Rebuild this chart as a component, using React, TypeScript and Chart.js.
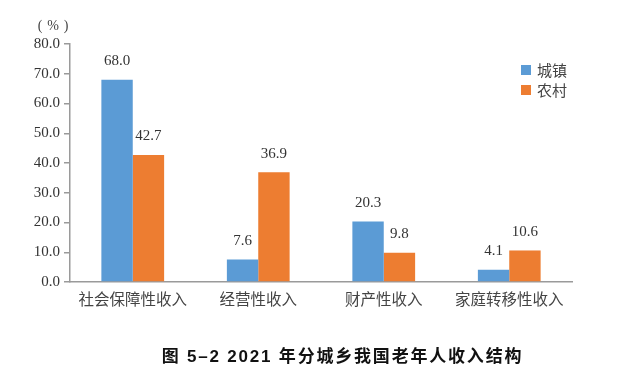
import React, { useEffect, useRef } from "react";
import { Chart, registerables } from "chart.js";

Chart.register(...registerables);

const categories = ["社会保障性收入", "经营性收入", "财产性收入", "家庭转移性收入"];
const seriesNames = ["城镇", "农村"];
const urbanValues = [68.0, 7.6, 20.3, 4.1];
const ruralValues = [42.7, 36.9, 9.8, 10.6];
const seriesColors = ["#5b9bd5", "#ed7d31"];
const yMin = 0;
const yMax = 80;
const yStep = 10;
const caption = "图 5–2 2021 年分城乡我国老年人收入结构";

const SERIF = "'Liberation Serif', 'Times New Roman', serif";
const CJK = "'Noto Sans CJK SC', 'Noto Sans', sans-serif";

const overlayPlugin = {
  id: "overlay",
  afterDatasetsDraw(chart: any) {
    const ctx = chart.ctx;
    const area = chart.chartArea;
    ctx.save();
    // value labels
    ctx.font = `15px ${SERIF}`;
    ctx.fillStyle = "#333";
    ctx.textAlign = "center";
    ctx.textBaseline = "bottom";
    chart.data.datasets.forEach((ds: any, di: number) => {
      const meta = chart.getDatasetMeta(di);
      meta.data.forEach((bar: any, i: number) => {
        ctx.fillText(Number(ds.data[i]).toFixed(1), bar.x, bar.y - 11);
      });
    });
    // legend
    ctx.textAlign = "left";
    ctx.textBaseline = "middle";
    ctx.font = `15px ${CJK}`;
    seriesNames.forEach((name, i) => {
      const x = area.right - 51;
      const y = area.top + 21 + i * 20;
      ctx.fillStyle = seriesColors[i];
      ctx.fillRect(x, y, 10, 10);
      ctx.fillStyle = "#444";
      ctx.fillText(name, x + 16, y + 5);
    });
    // unit label
    ctx.textAlign = "center";
    ctx.textBaseline = "middle";
    ctx.font = `14px ${SERIF}`;
    ctx.fillStyle = "#444";
    ctx.fillText("(", area.left - 30, area.top - 18);
    ctx.fillText("%", area.left - 17, area.top - 18);
    ctx.fillText(")", area.left - 4, area.top - 18);
    ctx.restore();
  },
};

export default function App() {
  const canvasRef = useRef<HTMLCanvasElement | null>(null);

  useEffect(() => {
    document.body.style.margin = "0";
    const canvas = canvasRef.current;
    if (!canvas) return;
    const chart = new Chart(canvas, {
      type: "bar",
      data: {
        labels: categories,
        datasets: [
          {
            label: seriesNames[0],
            data: urbanValues,
            backgroundColor: seriesColors[0],
            barPercentage: 1.0,
            categoryPercentage: 0.5,
          },
          {
            label: seriesNames[1],
            data: ruralValues,
            backgroundColor: seriesColors[1],
            barPercentage: 1.0,
            categoryPercentage: 0.5,
          },
        ],
      },
      options: {
        responsive: false,
        animation: false,
        devicePixelRatio: 1,
        layout: { padding: { left: 0, top: 44, right: 63, bottom: 64 } },
        plugins: {
          legend: { display: false },
          tooltip: { enabled: false },
          title: { display: false },
        },
        scales: {
          x: {
            grid: { display: false, drawTicks: false },
            border: { color: "#9a9a9a", width: 1.5 },
            ticks: {
              font: { family: CJK, size: 15.5 },
              color: "#444",
              padding: 8,
              maxRotation: 0,
              autoSkip: false,
            },
            afterFit: (scale: any) => {
              scale.height = 30;
            },
          },
          y: {
            min: yMin,
            max: yMax,
            grid: {
              drawOnChartArea: false,
              drawTicks: true,
              tickLength: 6,
              color: "#9a9a9a",
              lineWidth: 1.5,
            },
            border: { color: "#9a9a9a", width: 1.5 },
            ticks: {
              stepSize: yStep,
              font: { family: SERIF, size: 15 },
              color: "#333",
              padding: 4,
              callback: (v: any) => Number(v).toFixed(1),
            },
            afterFit: (scale: any) => {
              scale.width = 70;
            },
          },
        },
      },
      plugins: [overlayPlugin],
    });
    return () => chart.destroy();
  }, []);

  return (
    <div style={{ position: "relative", width: 635, height: 376, background: "#fff" }}>
      <canvas ref={canvasRef} width={635} height={376} style={{ display: "block" }} />
      <div
        style={{
          position: "absolute",
          left: 0,
          width: 635,
          top: 345,
          textAlign: "center",
          paddingLeft: 50,
          boxSizing: "border-box",
          fontFamily: "'Liberation Sans', 'Noto Sans CJK SC', sans-serif",
          fontWeight: "bold",
          fontSize: 17,
          letterSpacing: "1.8px",
          color: "#111",
          lineHeight: "24px",
        }}
      >
        {caption}
      </div>
    </div>
  );
}
